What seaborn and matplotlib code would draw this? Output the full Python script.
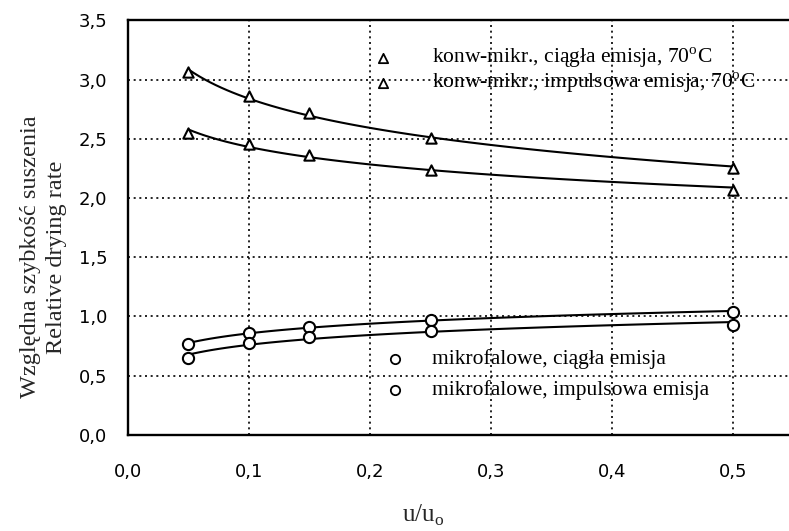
import numpy as np
import pandas as pd
import matplotlib
matplotlib.use("Agg")
import matplotlib.pyplot as plt
import seaborn as sns

# relative moisture content u/u0
u_ratio = [0.05, 0.1, 0.15, 0.25, 0.5]

# relative drying rate
konw_ciagla = [3.06, 2.86, 2.72, 2.51, 2.25]
konw_impuls = [2.55, 2.46, 2.36, 2.24, 2.07]
mikro_ciagla = [0.77, 0.86, 0.91, 0.97, 1.04]
mikro_impuls = [0.65, 0.78, 0.83, 0.88, 0.93]

labels = [
    "konw-mikr., ciągła emisja, 70$^{\\mathrm{o}}$C",
    "konw-mikr., impulsowa emisja, 70$^{\\mathrm{o}}$C",
    "mikrofalowe, ciągła emisja",
    "mikrofalowe, impulsowa emisja",
]
x_ticks = [0.0, 0.1, 0.2, 0.3, 0.4, 0.5]
y_ticks = [0.0, 0.5, 1.0, 1.5, 2.0, 2.5, 3.0, 3.5]

sns.set_theme(style="white")
plt.rcParams["font.family"] = ["DejaVu Sans"]
plt.rcParams["mathtext.fontset"] = "custom"
plt.rcParams["mathtext.rm"] = "Liberation Serif"

series = [konw_ciagla, konw_impuls, mikro_ciagla, mikro_impuls]
markers = ["^", "^", "o", "o"]
sizes = [55, 55, 65, 65]

fig = plt.figure(figsize=(7.89, 5.31), dpi=100)
ax = fig.add_axes([0.162, 0.181, 0.838, 0.7806])

x = np.array(u_ratio)
xs = np.linspace(x.min(), x.max(), 100)
for vals, m, s in zip(series, markers, sizes):
    # logarithmic trend line through the measured points
    coef = np.polyfit(np.log(x), vals, 1)
    trend = pd.DataFrame({"u": xs, "r": np.polyval(coef, np.log(xs))})
    sns.lineplot(data=trend, x="u", y="r", ax=ax, color="black", lw=1.5)
    pts = pd.DataFrame({"u": u_ratio, "r": vals})
    sns.scatterplot(data=pts, x="u", y="r", ax=ax, marker=m, s=s,
                    facecolor="white", edgecolor="black", linewidth=1.5,
                    zorder=5)

ax.set_xlim(0, 0.546)
ax.set_ylim(0, 3.5)
ax.set_xticks(x_ticks)
ax.set_yticks(y_ticks)
ax.set_xticklabels([f"{v:.1f}".replace(".", ",") for v in x_ticks], fontsize=13)
ax.set_yticklabels([f"{v:.1f}".replace(".", ",") for v in y_ticks], fontsize=13)
ax.tick_params(axis="x", direction="out", length=9.4, width=1.6, pad=11, colors="black")
ax.tick_params(axis="y", direction="out", length=10.8, width=1.6, pad=4, colors="black")
ax.grid(True, color="black", linestyle=(0, (1.2, 2.2)), linewidth=1.2)

for side in ["left", "bottom", "top"]:
    ax.spines[side].set_visible(True)
    ax.spines[side].set_color("black")
    ax.spines[side].set_linewidth(1.7)
ax.spines["right"].set_visible(False)

ax.set_xlabel("u/u$_{\\mathrm{o}}$", family="Liberation Serif", fontsize=18)
ax.xaxis.set_label_coords(0.446, -0.165)
ax.set_ylabel("Względna szybkość suszenia\nRelative drying rate",
              family="Liberation Serif", fontsize=17.5, linespacing=1.3)
ax.yaxis.set_label_coords(-0.092, 0.429)

# in-plot legend entries
leg_pos = [(0.2107, 3.185), (0.2107, 2.975), (0.2207, 0.642), (0.2207, 0.38)]
for (lx, ly), lab, m in zip(leg_pos, labels, markers):
    ax.scatter([lx], [ly], marker=m, s=45, facecolor="white",
               edgecolor="black", linewidth=1.3, zorder=6)
    ax.text(0.2512, ly, lab, family="Liberation Serif",
            fontsize=15.5, va="center", ha="left", color="black")

fig.savefig("out.png", dpi=100)
